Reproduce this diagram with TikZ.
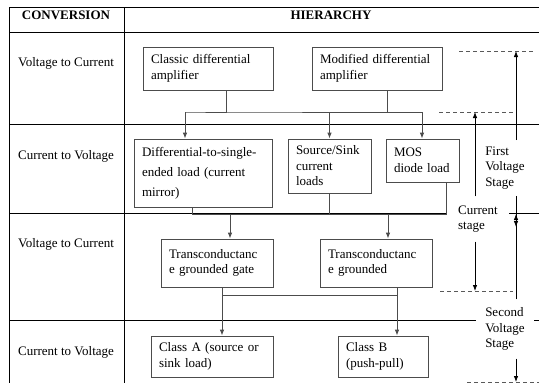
\documentclass[tikz,border=0pt]{standalone}
\usepackage{fontspec}
\setmainfont{Liberation Serif}
\usetikzlibrary{arrows.meta}

\definecolor{boxc}{gray}{0.3}
\definecolor{dashc}{gray}{0.35}

\begin{document}
\begin{tikzpicture}[x=1pt,y=-1pt,>={Latex[length=6pt,width=4.5pt]},
    font=\fontsize{13}{15.5}\selectfont]

  \useasboundingbox (0,0) rectangle (539,383);

  % table
  \begin{scope}[line width=.8pt]
    \draw (9,7) -- (539,7);
    \draw (9,32) -- (539,32);
    \foreach \y in {124,213,320}
      \draw (9,\y) -- (539,\y);
    \draw (9,7) -- (9,383);
    \draw (124,7) -- (124,383);
  \end{scope}

  \node (h1) at (66,15) {\textbf{CONVERSION}};
  \node (h2) at (331,15) {\textbf{HIERARCHY}};

  \node (c1) at (66,63)  {Voltage to Current};
  \node (c2) at (66,156) {Current to Voltage};
  \node (c3) at (66,244) {Voltage to Current};
  \node (c4) at (66,352) {Current to Voltage};

  % boxes
  \begin{scope}[every node/.style={draw=boxc,line width=.8pt,align=left,
      inner xsep=8pt,inner ysep=0pt}]
    \node[text width=114pt,minimum height=43pt] (1) at (208,68.5)
      {Classic differential\\amplifier};
    \node[text width=114pt,minimum height=43pt] (2) at (377,68.5)
      {Modified differential\\amplifier};
    \node[text width=122pt,minimum height=68pt] (3) at (203,173)
      {Differential-to-single-\\[4.5pt]ended load (current\\[4.5pt]mirror)};
    \node[text width=67pt,minimum height=54pt] (4) at (329.5,166)
      {Source/Sink\\current\\loads};
    \node[text width=57pt,minimum height=43pt] (5) at (422.5,160.5)
      {MOS\\diode load};
    \node[text width=96pt,minimum height=48pt] (6) at (217,263)
      {Transconductanc\\e grounded gate};
    \node[text width=96pt,minimum height=48pt] (7) at (376,263)
      {Transconductanc\\e grounded};
    \node[text width=106pt,minimum height=41pt] (8) at (212,356.5)
      {Class A (source or\\sink load)};
    \node[text width=74pt,minimum height=41pt] (9) at (383,356.5)
      {Class B\\(push-pull)};
  \end{scope}

  % junctions
  \coordinate (j1) at (185,112);
  \coordinate (j2) at (192,214);
  \coordinate (j3) at (222,295);

  \begin{scope}[draw=boxc,line width=.8pt]
    \draw (1.south -| 226,0) |- (j1) -- (j1 -| 422,0);
    \draw[->] (j1) -- (3.north -| j1);
    \draw[->] (j1 -| 4) -- (4.north);
    \draw (2.south -| 387,0) -- (j1 -| 387,0);
    \draw[->] (j1 -| 422,0) -- (5.north -| 422,0);

    \draw (3.south -| j2) -- (j2) -- (j2 -| 446,0) -- (5.south -| 446,0);
    \draw (4.south) -- (j2 -| 4);
    \draw[->] (j2 -| 230,0) -- (6.north -| 230,0);
    \draw[->] (j2 -| 388,0) -- (7.north -| 388,0);

    \draw[->] (6.south -| j3) -- (8.north -| j3);
    \draw[->] (7.south -| 397,0) -- (9.north -| 397,0);
    \draw (j3) -- (j3 -| 397,0);
  \end{scope}

  % stages
  \coordinate (d1) at (516,51);
  \coordinate (d2) at (475,112);
  \coordinate (d3) at (475,291);
  \coordinate (d4) at (516,382);
  \coordinate (m1) at (516,227);
  \coordinate (m2) at (516,214);

  \begin{scope}[draw=dashc,line width=.8pt,dash pattern=on 4pt off 3pt]
    \draw (459,51) -- (533,51);
    \draw (439,112) -- (515,112);
    \draw (440,291) -- (513,291);
    \draw (467,382) -- (539,382);
  \end{scope}

  \begin{scope}[every node/.style={fill=white,align=left}]
    \node[inner xsep=2pt,inner ysep=6.5pt] (fvs) at (505,168)
      {First\\Voltage\\Stage};
    \node[inner xsep=11pt,inner ysep=9pt] (cs) at (478,219)
      {Current\\stage};
    \node[inner xsep=9pt,inner ysep=8pt] (svs) at (505,329)
      {Second\\Voltage\\Stage};
  \end{scope}

  \begin{scope}[line width=.8pt]
    \draw[->] (fvs.north -| d1) -- (d1);
    \draw[->] (fvs.south -| d1) -- (m1);
    \draw[->] (svs.north -| d1) -- (m2);
    \draw[->] (svs.south -| d1) -- (d4);
    \draw[->] (cs.north -| d2) -- (d2);
    \draw[->] (cs.south -| d2) -- (d3);
  \end{scope}

\end{tikzpicture}
\end{document}
